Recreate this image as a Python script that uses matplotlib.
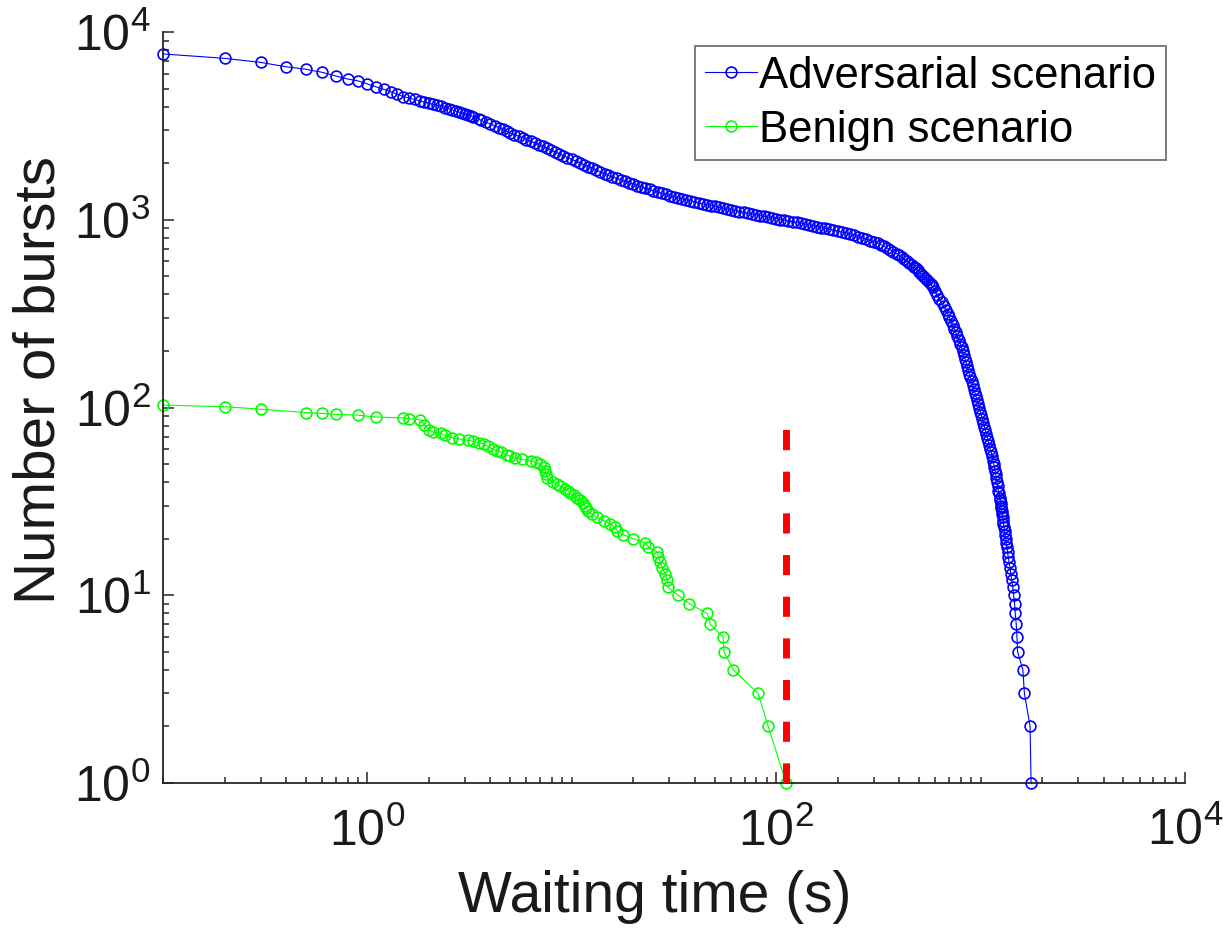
import math
import matplotlib
matplotlib.use("Agg")
import matplotlib.pyplot as plt
from matplotlib.ticker import FixedLocator, FuncFormatter, NullFormatter

plt.rcParams['font.family'] = ['Liberation Sans', 'DejaVu Sans']
plt.rcParams['mathtext.fontset'] = 'custom'
plt.rcParams['mathtext.rm'] = 'Liberation Sans'
plt.rcParams['mathtext.it'] = 'Liberation Sans:italic'
plt.rcParams['mathtext.bf'] = 'Liberation Sans:bold'

# Complementary counts of bursts whose waiting time exceeds t (seconds)
adv_time = [
    0.1, 0.2, 0.3, 0.4, 0.5, 0.6, 0.7, 0.8, 0.9, 1.0, 1.1, 1.2, 1.3, 1.4, 1.5,
    1.6, 1.7, 1.8, 1.9, 2.0, 2.1, 2.2, 2.3, 2.4, 2.5, 2.6, 2.7, 2.8, 2.9, 3.0,
    3.1, 3.2, 3.3, 3.5, 3.6, 3.8, 4.0, 4.2, 4.4, 4.6, 4.8, 5.0, 5.2, 5.5, 5.8,
    6.0, 6.3, 6.6, 6.9, 7.2, 7.6, 7.9, 8.3, 8.7, 9.1, 9.5, 10.0, 10.5, 11.0,
    11.5, 12.0, 12.6, 13.2, 13.8, 14.5, 15.1, 15.8, 16.6, 17.4, 18.2, 19.1,
    20.0, 20.9, 21.9, 22.9, 24.0, 25.1, 26.3, 27.5, 28.8, 30.2, 31.6, 33.1,
    34.7, 36.3, 38.0, 39.8, 41.7, 43.7, 45.7, 47.9, 50.1, 52.5, 55.0, 57.5,
    60.3, 63.1, 66.1, 69.2, 72.4, 75.9, 79.4, 83.2, 87.1, 91.2, 95.5, 100.0,
    104.7, 109.6, 114.8, 120.2, 125.9, 131.8, 138.0, 144.5, 151.4, 158.5,
    166.0, 173.8, 182.0, 190.5, 199.5, 208.9, 218.8, 229.1, 239.9, 251.2,
    263.0, 275.4, 288.4, 302.0, 316.2, 326, 336, 348, 361, 374, 388, 400, 411,
    423, 435, 447, 460, 471, 482, 492, 502, 513, 524, 535, 547, 558, 569, 576,
    583, 597, 612, 628, 644, 660, 676, 691, 704, 716, 729, 742, 756, 769, 783,
    796, 807, 817, 827, 838, 848, 859, 870, 881, 892, 904, 915, 927, 938, 950,
    961, 972, 984, 996, 1008, 1021, 1032, 1044, 1055, 1067, 1079, 1090, 1102,
    1114, 1126, 1139, 1151, 1160, 1168, 1177, 1186, 1195, 1204, 1213, 1223,
    1232, 1241, 1247, 1252, 1258, 1263, 1269, 1275, 1281, 1287, 1294, 1301,
    1309, 1317, 1326, 1334, 1343, 1354, 1365, 1377, 1392, 1405, 1421, 1438,
    1452, 1466, 1478, 1494, 1506, 1517, 1610, 1638, 1746, 1766,
]
adv_count = [
    7640, 7240, 6890, 6530, 6330, 6100, 5830, 5620, 5490, 5290, 5110, 4950,
    4810, 4660, 4530, 4446, 4373, 4302, 4237, 4176, 4119, 4066, 4012, 3954,
    3898, 3845, 3795, 3747, 3701, 3658, 3616, 3577, 3532, 3456, 3381, 3306,
    3233, 3163, 3094, 3027, 2960, 2901, 2843, 2785, 2729, 2674, 2620, 2567,
    2515, 2460, 2405, 2351, 2297, 2245, 2194, 2145, 2097, 2050, 2005, 1961,
    1919, 1877, 1836, 1796, 1757, 1721, 1690, 1661, 1632, 1603, 1575, 1547,
    1520, 1494, 1472, 1450, 1428, 1407, 1386, 1364, 1344, 1324, 1308, 1292,
    1277, 1262, 1247, 1231, 1216, 1202, 1189, 1177, 1165, 1153, 1141, 1129,
    1118, 1106, 1095, 1084, 1074, 1063, 1052, 1042, 1031, 1021, 1012, 1003,
    995, 986, 977, 969, 960, 949, 938, 927, 918, 908, 899, 889, 880, 871, 861,
    852, 840, 827, 813, 799, 786, 774, 761, 748, 736, 724, 708, 692, 676, 661,
    646, 631, 617, 603, 589, 575, 562, 550, 537, 525, 513, 501, 490, 479, 468,
    457, 447, 437, 417, 398, 380, 363, 347, 331, 316, 302, 288, 275, 263, 251,
    240, 229, 219, 209, 200, 191, 182, 174, 166, 158, 151, 145, 138, 132, 126,
    120, 115, 110, 105, 100, 95, 91, 87, 83, 79, 76, 72, 69, 66, 63, 60, 58,
    55, 52, 50, 48, 46, 44, 42, 40, 38, 36, 35, 33, 32, 31, 30, 29, 28, 27, 26,
    25, 24, 23, 22, 21, 20, 19, 18, 17, 16, 15, 14, 13, 12, 11, 10, 9, 8, 7, 6,
    5, 4, 3, 2, 1,
]

benign_time = [
    0.1, 0.2, 0.3, 0.5, 0.6, 0.7, 0.9, 1.1, 1.5, 1.6, 1.8, 1.9, 2.0, 2.1, 2.3,
    2.4, 2.6, 2.8, 3.1, 3.3, 3.5, 3.7, 3.9, 4.1, 4.3, 4.5, 4.8, 5.0, 5.3, 5.7,
    6.3, 6.7, 7.0, 7.3, 7.4, 7.5, 7.6, 8.1, 8.5, 8.8, 9.3, 9.6, 9.8, 10.2,
    10.6, 11.0, 11.4, 11.6, 11.8, 12.0, 12.6, 13.3, 14.3, 15.4, 16.3, 16.7,
    17.9, 20.0, 22.9, 23.7, 26.2, 26.5, 27.1, 27.7, 28.6, 29.3, 29.6, 33.2,
    37.6, 46.0, 47.6, 55.0, 55.5, 61.7, 81.7, 91.4, 111.9,
]
benign_count = [
    103, 101, 98, 94, 93, 92, 91, 89, 88, 87, 86, 81, 76, 74, 73, 71, 69, 68,
    67, 66, 65, 64, 62, 60, 59, 58, 56, 55, 54, 53, 52, 51, 50, 48, 46, 44, 42,
    40, 39, 38, 37, 36, 35, 34, 33, 32, 31, 30, 29, 28, 27, 26, 25, 24, 23, 22,
    21, 20, 19, 18, 17, 16, 15, 14, 13, 12, 11, 10, 9, 8, 7, 6, 5, 4, 3, 2, 1,
]

# Longest benign waiting time, drawn as a vertical threshold
threshold_time = [111.9, 111.9]
threshold_span = [1, 100]

series_labels = ["Adversarial scenario", "Benign scenario"]
x_major = [1e0, 1e2, 1e4]
y_major = [1e0, 1e1, 1e2, 1e3, 1e4]

W, H = 1223, 940
fig = plt.figure(figsize=(W / 100, H / 100), dpi=100)
ax = fig.add_axes([163 / W, 1 - 783 / H, (1185 - 163) / W, (783 - 32) / H])

axis_color = "#262626"
mk = dict(marker="o", markersize=7.8, markerfacecolor="none",
          markeredgewidth=1.2, linewidth=0.8, clip_on=False)
ax.plot(adv_time, adv_count, color=(0, 0, 1), label=series_labels[0], **mk)
ax.plot(benign_time, benign_count, color=(0, 1, 0), label=series_labels[1], **mk)
ax.plot(threshold_time, threshold_span, color=(1, 0, 0), linewidth=5.0,
        dashes=(2.9, 3.1), dash_capstyle="butt", zorder=3)

ax.set_xscale("log")
ax.set_yscale("log")
ax.set_xlim(1e-1, 1e4)
ax.set_ylim(1e0, 1e4)

x_minor = [m * 10.0 ** d for d in range(-1, 4) for m in range(1, 10)
           if m * 10.0 ** d not in x_major]
y_minor = [m * 10.0 ** d for d in range(0, 4) for m in range(2, 10)]
ax.xaxis.set_major_locator(FixedLocator(x_major))
ax.xaxis.set_minor_locator(FixedLocator(x_minor))
ax.yaxis.set_major_locator(FixedLocator(y_major))
ax.yaxis.set_minor_locator(FixedLocator(y_minor))

fmt = FuncFormatter(lambda v, p: r"$\mathregular{10^{%d}}$" % round(math.log10(v)))
ax.xaxis.set_major_formatter(fmt)
ax.yaxis.set_major_formatter(fmt)
ax.xaxis.set_minor_formatter(NullFormatter())
ax.yaxis.set_minor_formatter(NullFormatter())

for side in ("top", "right"):
    ax.spines[side].set_visible(False)
for side in ("left", "bottom"):
    ax.spines[side].set_color(axis_color)
    ax.spines[side].set_linewidth(1.3)

ax.tick_params(which="both", direction="in", colors=axis_color,
               labelcolor="#1a1a1a", width=1.1, top=False, right=False)
ax.tick_params(which="major", length=8, labelsize=36, pad=9)
ax.tick_params(which="minor", length=4.5)
ax.tick_params(axis="x", which="major", pad=18)

ax.set_xlabel("Waiting time (s)", fontsize=41, color="#1a1a1a")
ax.set_ylabel("Number of bursts", fontsize=42, color="#1a1a1a")
ax.xaxis.set_label_coords((655 - 163) / 1022, -0.116)
ax.yaxis.set_label_coords(-0.094, 0.537)

leg = ax.legend(loc="upper right", bbox_to_anchor=(0.9814, 0.9814),
                borderaxespad=0, fontsize=31.5, frameon=True, fancybox=False,
                handlelength=1.2, handletextpad=0.05, borderpad=0.22,
                labelspacing=0.3, numpoints=1)
leg.get_frame().set_edgecolor("#404040")
leg.get_frame().set_linewidth(1.2)
for t in leg.get_texts():
    t.set_color("black")

fig.savefig("out.png", dpi=100)
